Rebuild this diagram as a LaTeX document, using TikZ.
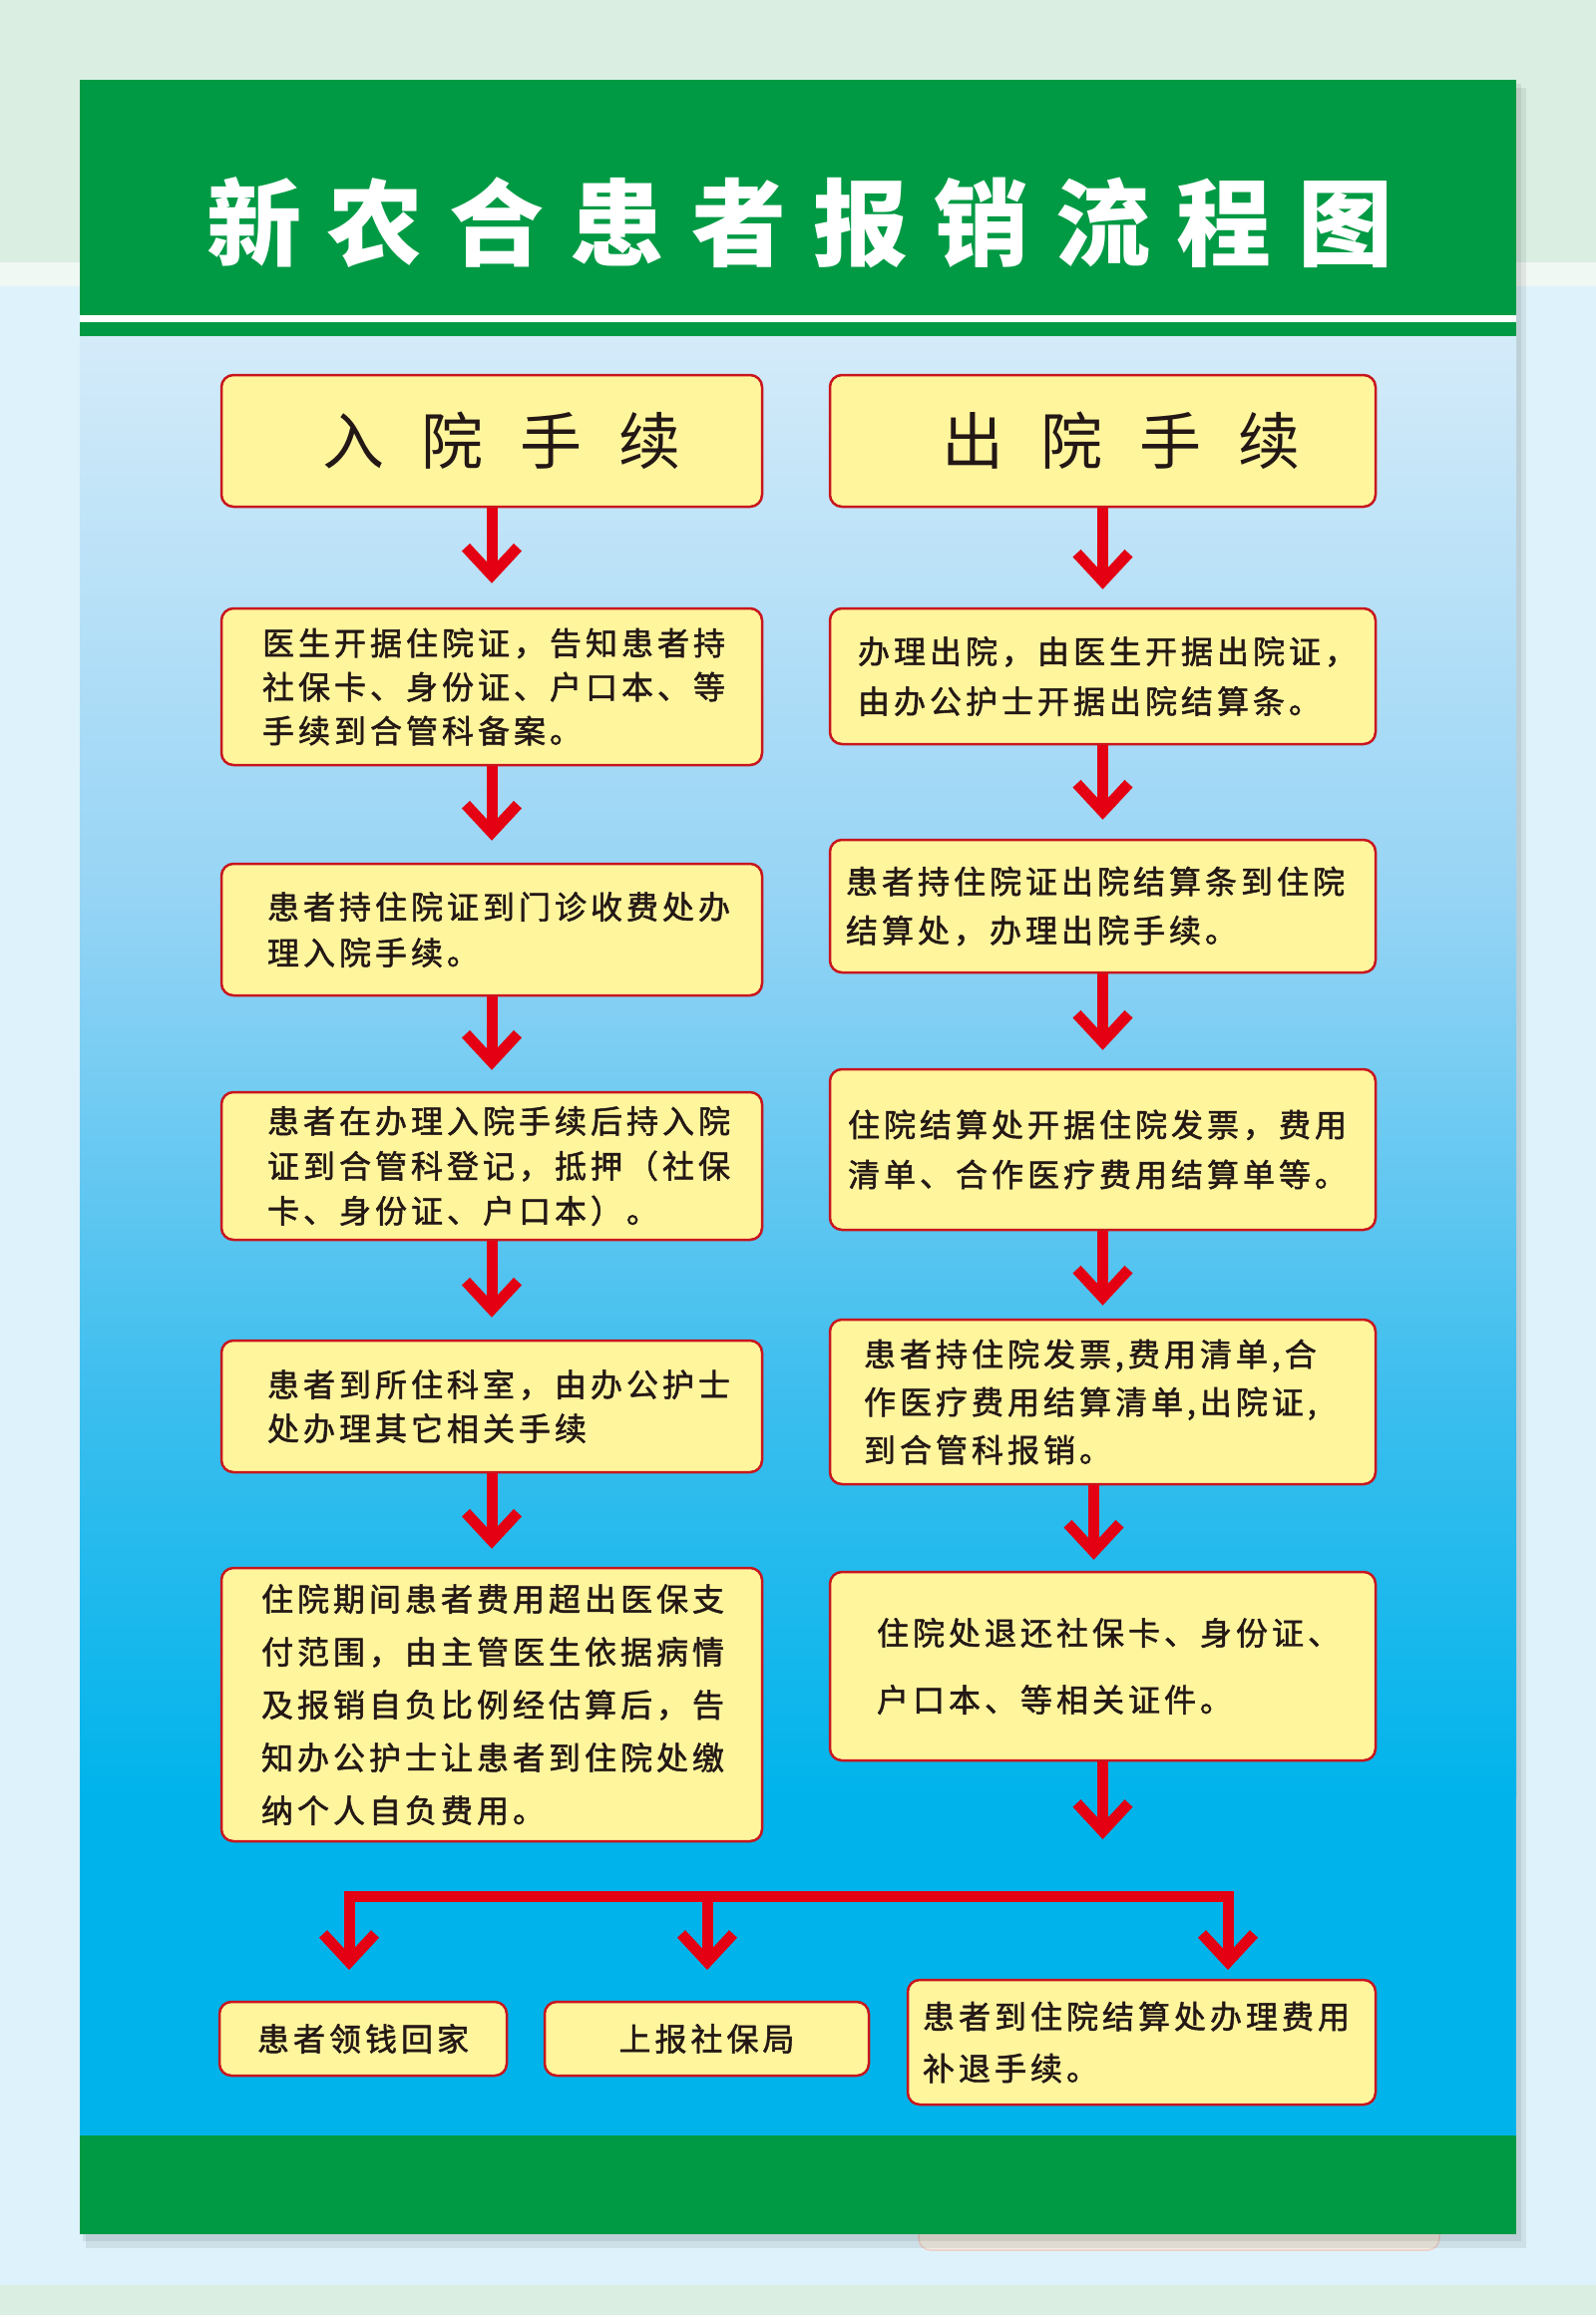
\documentclass[tikz,border=0pt]{standalone}
\usepackage{fontspec}
\usetikzlibrary{arrows.meta}
\newfontfamily\bodyfont[LetterSpace=12.5, FakeBold=1.5]{Noto Sans CJK SC}
\newfontfamily\headfont[LetterSpace=60]{Noto Sans CJK SC}
\newfontfamily\titlefont[LetterSpace=28]{Noto Sans CJK SC}
\definecolor{mint}{RGB}{218,238,226}
\definecolor{paleblue}{RGB}{221,242,250}
\definecolor{pgreen}{RGB}{0,154,68}
\definecolor{bA}{RGB}{212,235,249}
\definecolor{bB}{RGB}{150,212,245}
\definecolor{bC}{RGB}{60,190,238}
\definecolor{bD}{RGB}{0,180,235}
\definecolor{boxfill}{RGB}{255,245,157}
\definecolor{boxline}{RGB}{200,22,30}
\definecolor{arrred}{RGB}{228,0,18}
\definecolor{txt}{RGB}{35,24,21}
\definecolor{beige}{RGB}{241,236,226}
\definecolor{beigeline}{RGB}{236,208,202}
\tikzset{
  bx/.style={draw=boxline, line width=2.5pt, fill=boxfill, rounded corners=12pt,
    align=left, text=txt, inner ysep=0pt,
    font=\bodyfont\fontsize{32}{44}\selectfont},
  hbx/.style={bx, font=\headfont\fontsize{62}{62}\selectfont},
  arr/.style={draw=arrred, line width=11pt, -{Straight Barb[length=28pt,width=52pt]}},
}
\begin{document}
\begin{tikzpicture}[x=1pt,y=-1pt]
\useasboundingbox (0,0) rectangle (1600,2321);
% page background
\fill[mint] (0,0) rectangle (1600,263);
\fill[white!60!mint] (0,263) rectangle (1600,287);
\fill[paleblue] (0,287) rectangle (1600,2291);
\fill[mint] (0,2291) rectangle (1600,2321);
\filldraw[fill=beige, draw=beigeline, line width=1.5pt, rounded corners=12pt] (921,2200) rectangle (1443,2256);
% shadow
\fill[black, opacity=0.07] (86,88) rectangle (1530,2254);
\fill[black, opacity=0.07] (83,84) rectangle (1525,2247);
% poster
\fill[pgreen] (80,80) rectangle (1520,316);
\fill[white] (80,316) rectangle (1520,323);
\fill[pgreen] (80,323) rectangle (1520,337);
\shade[top color=bA, bottom color=bB] (80,337) rectangle (1520,901);
\shade[top color=bB, bottom color=bC] (80,900) rectangle (1520,1401);
\shade[top color=bC, bottom color=bD] (80,1400) rectangle (1520,1801);
\fill[bD] (80,1800) rectangle (1520,2141);
\fill[pgreen] (80,2141) rectangle (1520,2240);
% title
\node[anchor=west, inner sep=0pt, text=white, font=\titlefont\bfseries\fontsize{95}{95}\selectfont] (title) at (207,223) {新农合患者报销流程图};
% headers
\node[hbx, minimum height=132, text width=340, inner xsep=101] (H1) at (493,442) {入院手续};
\node[hbx, minimum height=132, text width=323, inner xsep=112] (H2) at (1105.5,442) {出院手续};
% left column
\node[bx, minimum height=157, text width=460, inner xsep=41] (L1) at (493,688.5) {医生开据住院证，告知患者持\\社保卡、身份证、户口本、等\\手续到合管科备案。};
\node[bx, minimum height=132, text width=450, inner xsep=46, font=\bodyfont\fontsize{32}{46}\selectfont] (L2) at (493,932) {患者持住院证到门诊收费处办\\理入院手续。};
\node[bx, minimum height=148, text width=450, inner xsep=46, font=\bodyfont\fontsize{32}{45}\selectfont] (L3) at (493,1169) {患者在办理入院手续后持入院\\证到合管科登记，抵押（社保\\卡、身份证、户口本）。};
\node[bx, minimum height=132, text width=450, inner xsep=46] (L4) at (493,1410) {患者到所住科室，由办公护士\\处办理其它相关手续};
\node[bx, minimum height=274, text width=462, inner xsep=40, font=\bodyfont\fontsize{32}{53}\selectfont] (L5) at (493,1709) {住院期间患者费用超出医保支\\付范围，由主管医生依据病情\\及报销自负比例经估算后，告\\知办公护士让患者到住院处缴\\纳个人自负费用。};
% right column
\node[bx, minimum height=136, text width=491, inner xsep=28, font=\bodyfont\fontsize{32}{50}\selectfont] (R1) at (1105.5,678) {办理出院，由医生开据出院证，\\由办公护士开据出院结算条。};
\node[bx, minimum height=133, text width=515, inner xsep=16, font=\bodyfont\fontsize{32}{49}\selectfont] (R2) at (1105.5,908.5) {患者持住院证出院结算条到住院\\结算处，办理出院手续。};
\node[bx, minimum height=161, text width=511, inner xsep=18, font=\bodyfont\fontsize{32}{50}\selectfont] (R3) at (1105.5,1152.5) {住院结算处开据住院发票，费用\\清单、合作医疗费用结算单等。};
\node[bx, minimum height=165, text width=479, inner xsep=34, font=\bodyfont\fontsize{32}{48}\selectfont] (R4) at (1105.5,1405.5) {患者持住院发票,费用清单,合\\作医疗费用结算清单,出院证,\\到合管科报销。};
\node[bx, minimum height=189, text width=453, inner xsep=47, font=\bodyfont\fontsize{32}{67}\selectfont] (R5) at (1105.5,1670.5) {住院处退还社保卡、身份证、\\户口本、等相关证件。};
% bottom row
\node[bx, align=center, minimum height=74, text width=268, inner xsep=10] (B1) at (364,2044) {患者领钱回家};
\node[bx, align=center, minimum height=74, text width=305, inner xsep=10] (B2) at (708.5,2044) {上报社保局};
\node[bx, minimum height=125, text width=439, inner xsep=15, font=\bodyfont\fontsize{32}{52}\selectfont] (B3) at (1144.5,2047.5) {患者到住院结算处办理费用\\补退手续。};
% arrows left
\draw[arr, shorten >=24pt] (H1) -- (L1);
\draw[arr, shorten >=22pt] (L1) -- (L2);
\draw[arr, shorten >=21pt] (L2) -- (L3);
\draw[arr, shorten >=22pt] (L3) -- (L4);
\draw[arr, shorten >=18pt] (L4) -- (L5);
% arrows right
\draw[arr, shorten >=18pt] (H2) -- (R1);
\draw[arr, shorten >=19pt] (R1) -- (R2);
\draw[arr, shorten >=18pt] (R2) -- (R3);
\draw[arr, shorten >=13pt] (R3) -- (R4);
\draw[arr, shorten >=11pt] ([xshift=-9pt]R4.south) -- ([xshift=-9pt]R5.north);
\coordinate (r5end) at (1105.5,1844);
\draw[arr] (R5) -- (r5end);
% fork
\coordinate (fk) at (709,1901);
\coordinate (t1) at (350,1975);
\coordinate (t2) at (709,1975);
\coordinate (t3) at (1231,1975);
\draw[arr] (fk) -| (t1);
\draw[arr] (fk) -- (t2);
\draw[arr] (fk) -| (t3);
\end{tikzpicture}
\end{document}
